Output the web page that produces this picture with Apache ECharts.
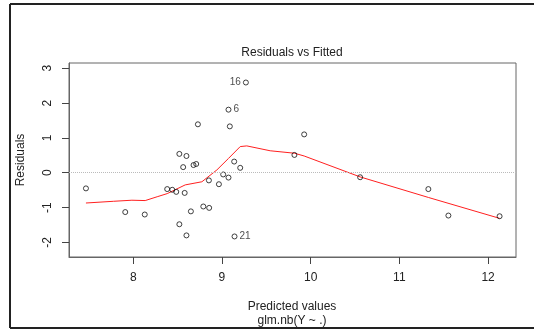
<!DOCTYPE html>
<html>
<head>
<meta charset="utf-8">
<script src="https://cdn.jsdelivr.net/npm/echarts@6/dist/echarts.min.js"></script>
<style>html,body{margin:0;padding:0;background:#fff;}#c{width:534px;height:329px;}</style>
</head>
<body>
<div id="c"></div>
<script>
var fittedX = [7.467, 7.91, 8.13, 8.383, 8.44, 8.485, 8.52, 8.52, 8.563, 8.58, 8.60, 8.60, 8.65, 8.68, 8.71, 8.729, 8.79, 8.853, 8.856, 8.966, 9.014, 9.074, 9.074, 9.089, 9.138, 9.142, 9.206, 9.27, 9.817, 9.927, 10.558, 11.327, 11.553, 12.13];
var residualY = [-0.45, -1.13, -1.20, -0.47, -0.49, -0.55, 0.54, -1.48, 0.16, -0.58, 0.48, -1.80, -1.11, 0.22, 0.25, 1.39, -0.97, -0.22, -1.01, -0.33, -0.05, -0.14, 1.81, 1.33, 0.32, -1.83, 0.14, 2.59, 0.51, 1.10, -0.13, -0.47, -1.23, -1.25];
var pointLabels = {22: {text: '6', side: 'right'}, 25: {text: '21', side: 'right'}, 27: {text: '16', side: 'left'}};
var lowessX = [7.467, 7.78, 7.985, 8.135, 8.27, 8.383, 8.586, 8.774, 8.943, 9.074, 9.206, 9.28, 9.544, 9.817, 9.927, 10.558, 11.327, 12.13];
var lowessY = [-0.87, -0.82, -0.79, -0.80, -0.69, -0.60, -0.35, -0.26, 0.08, 0.41, 0.75, 0.77, 0.63, 0.56, 0.48, -0.12, -0.71, -1.31];
var xTicks = [8, 9, 10, 11, 12];
var yTicks = [-2, -1, 0, 1, 2, 3];

var font = 'Liberation Sans, Arial, sans-serif';
var pts = fittedX.map(function (x, i) {
  var d = {value: [x, residualY[i]]};
  var L = pointLabels[i];
  if (L) {
    d.label = {show: true, formatter: L.text, position: L.side, distance: 2,
      fontSize: 10, fontFamily: font, color: '#222'};
  }
  return d;
});
var lw = lowessX.map(function (x, i) { return [x, lowessY[i]]; });

var chart = echarts.init(document.getElementById('c'), null, {renderer: 'canvas'});
chart.setOption({
  animation: false,
  backgroundColor: '#fff',
  grid: {left: 69, right: 18, top: 63, bottom: 72, show: true, borderColor: '#666', borderWidth: 1, backgroundColor: 'transparent'},
  xAxis: {
    type: 'value', min: 7.276, max: 12.315,
    axisLine: {show: true, onZero: false, lineStyle: {color: '#666'}},
    axisTick: {show: true, length: 7, lineStyle: {color: '#444'}, customValues: xTicks},
    axisLabel: {margin: 15, fontSize: 12, fontFamily: font, color: '#222', customValues: xTicks},
    splitLine: {show: false}
  },
  yAxis: {
    type: 'value', min: -2.42, max: 3.15,
    axisLine: {show: true, onZero: false, lineStyle: {color: '#666'}},
    axisTick: {show: true, length: 7, lineStyle: {color: '#444'}, customValues: yTicks},
    axisLabel: {margin: 15, rotate: 90, fontSize: 12, fontFamily: font, color: '#222', customValues: yTicks},
    splitLine: {show: false}
  },
  series: [
    {
      type: 'line', data: lw, showSymbol: false, symbol: 'none', z: 2,
      lineStyle: {color: '#ff2020', width: 1},
      markLine: {silent: true, symbol: 'none', label: {show: false},
        lineStyle: {color: '#bbb', type: 'dotted', width: 1},
        data: [{yAxis: 0}]}
    },
    {
      type: 'scatter', data: pts, symbol: 'circle', symbolSize: 5, z: 3,
      itemStyle: {color: 'rgba(255,255,255,0)', borderColor: '#111', borderWidth: 1}
    }
  ],
  graphic: [
    {type: 'text', style: {text: 'Residuals vs Fitted', x: 292, y: 53, align: 'center', verticalAlign: 'middle', font: '12px ' + font, fill: '#222'}},
    {type: 'text', style: {text: 'Predicted values', x: 292, y: 307, align: 'center', verticalAlign: 'middle', font: '12px ' + font, fill: '#222'}},
    {type: 'text', style: {text: 'glm.nb(Y ~ .)', x: 292, y: 321, align: 'center', verticalAlign: 'middle', font: '12px ' + font, fill: '#222'}},
    {type: 'text', x: 21, y: 160, rotation: Math.PI / 2, style: {text: 'Residuals', x: 0, y: 0, align: 'center', verticalAlign: 'middle', font: '12px ' + font, fill: '#222'}},
    {type: 'line', shape: {x1: 10, y1: 4, x2: 10, y2: 328}, style: {stroke: '#222', lineWidth: 2}},
    {type: 'line', shape: {x1: 10, y1: 4, x2: 534, y2: 4}, style: {stroke: '#222', lineWidth: 2}},
    {type: 'line', shape: {x1: 10, y1: 328, x2: 534, y2: 328}, style: {stroke: '#222', lineWidth: 2}}
  ]
});
</script>
</body>
</html>
